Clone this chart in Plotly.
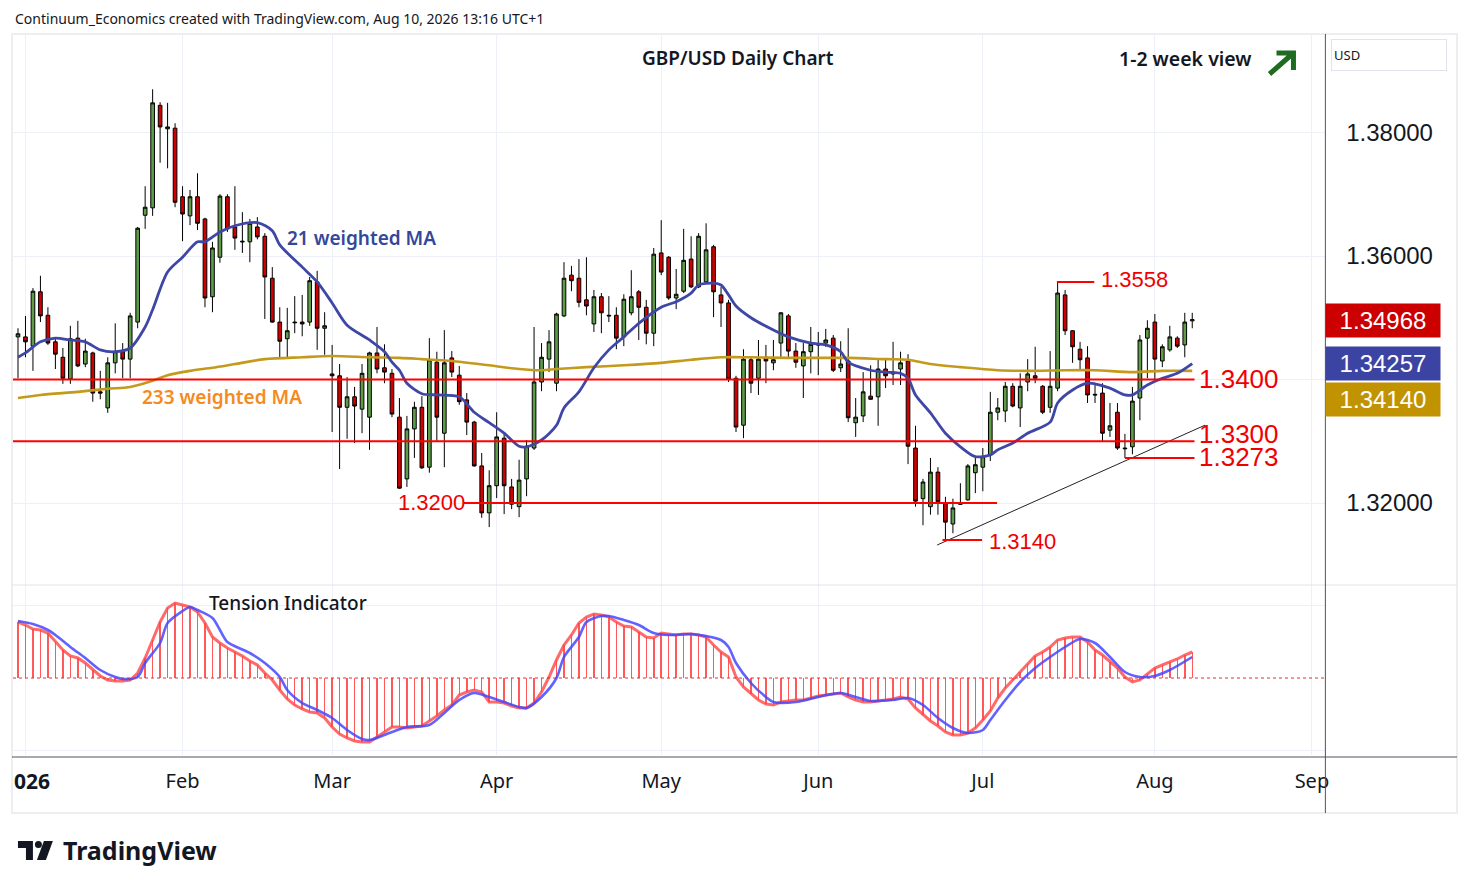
import pandas as pd
import plotly.graph_objects as go

# the page puts the figure 8px in from each edge of the window
OFF = 8
W, H = 1474 - 2 * OFF, 887 - 2 * OFF

def px(x):
    return (x - OFF) / W

def py(y):
    return 1 - (y - OFF) / H

# daily FX bars, weekends skipped
days = pd.bdate_range("2026-01-01", "2026-09-30")

opens = [1.3469, 1.3469, 1.3454, 1.3542, 1.3504, 1.3461, 1.3436, 1.3401, 1.3467, 1.3425,
         1.3443, 1.3380, 1.3354, 1.3427, 1.3445, 1.3433, 1.3493, 1.3666, 1.3678, 1.3844,
         1.3806, 1.3807, 1.3696, 1.3665, 1.3696, 1.3660, 1.3534, 1.3598, 1.3696, 1.3647,
         1.3624, 1.3623, 1.3647, 1.3632, 1.3564, 1.3493, 1.3466, 1.3493, 1.3493, 1.3493,
         1.3558, 1.3483, 1.3409, 1.3406, 1.3355, 1.3372, 1.3352, 1.3339, 1.3443, 1.3419,
         1.3410, 1.3339, 1.3239, 1.3320, 1.3355, 1.3258, 1.3428, 1.3313, 1.3435, 1.3407,
         1.3367, 1.3331, 1.3260, 1.3184, 1.3228, 1.3305, 1.3226, 1.3194, 1.3239, 1.3289,
         1.3396, 1.3433, 1.3394, 1.3503, 1.3569, 1.3564, 1.3529, 1.3490, 1.3534, 1.3504,
         1.3504, 1.3469, 1.3508, 1.3542, 1.3517, 1.3475, 1.3605, 1.3598, 1.3532, 1.3543,
         1.3595, 1.3550, 1.3558, 1.3615, 1.3537, 1.3524, 1.3402, 1.3326, 1.3432, 1.3402,
         1.3436, 1.3427, 1.3459, 1.3503, 1.3446, 1.3422, 1.3445, 1.3457, 1.3459, 1.3467,
         1.3419, 1.3430, 1.3330, 1.3341, 1.3373, 1.3372, 1.3417, 1.3409, 1.3417, 1.3430,
         1.3289, 1.3207, 1.3194, 1.3250, 1.3200, 1.3166, 1.3200, 1.3205, 1.3249, 1.3258,
         1.3278, 1.3347, 1.3349, 1.3389, 1.3354, 1.3396, 1.3406, 1.3389, 1.3355, 1.3386,
         1.3537, 1.3479, 1.3449, 1.3435, 1.3376, 1.3378, 1.3318, 1.3347, 1.3289, 1.3291,
         1.3370, 1.3467, 1.3493, 1.3430, 1.3448, 1.3467, 1.3456, 1.3495]
highs = [1.3483, 1.3503, 1.3548, 1.3568, 1.3517, 1.3466, 1.3451, 1.3487, 1.3495, 1.3466,
         1.3445, 1.3414, 1.3436, 1.3491, 1.3459, 1.3508, 1.3647, 1.3713, 1.3870, 1.3849,
         1.3848, 1.3815, 1.3713, 1.3707, 1.3734, 1.3662, 1.3623, 1.3700, 1.3700, 1.3713,
         1.3671, 1.3660, 1.3663, 1.3637, 1.3582, 1.3517, 1.3516, 1.3535, 1.3537, 1.3566,
         1.3576, 1.3509, 1.3456, 1.3425, 1.3404, 1.3388, 1.3425, 1.3445, 1.3485, 1.3457,
         1.3417, 1.3370, 1.3341, 1.3364, 1.3373, 1.3467, 1.3445, 1.3480, 1.3446, 1.3422,
         1.3378, 1.3333, 1.3281, 1.3253, 1.3347, 1.3313, 1.3239, 1.3270, 1.3302, 1.3485,
         1.3459, 1.3480, 1.3508, 1.3590, 1.3584, 1.3595, 1.3598, 1.3545, 1.3540, 1.3535,
         1.3517, 1.3538, 1.3577, 1.3545, 1.3529, 1.3613, 1.3658, 1.3600, 1.3579, 1.3644,
         1.3632, 1.3637, 1.3653, 1.3618, 1.3550, 1.3529, 1.3406, 1.3449, 1.3438, 1.3464,
         1.3456, 1.3464, 1.3509, 1.3506, 1.3459, 1.3459, 1.3485, 1.3477, 1.3482, 1.3472,
         1.3462, 1.3483, 1.3370, 1.3412, 1.3423, 1.3432, 1.3432, 1.3461, 1.3445, 1.3441,
         1.3325, 1.3239, 1.3273, 1.3258, 1.3210, 1.3207, 1.3232, 1.3263, 1.3275, 1.3289,
         1.3380, 1.3370, 1.3396, 1.3394, 1.3410, 1.3433, 1.3453, 1.3391, 1.3446, 1.3558,
         1.3545, 1.3480, 1.3461, 1.3454, 1.3394, 1.3394, 1.3362, 1.3362, 1.3312, 1.3388,
         1.3472, 1.3496, 1.3506, 1.3457, 1.3487, 1.3470, 1.3508, 1.3508]
lows = [1.3402, 1.3436, 1.3414, 1.3493, 1.3456, 1.3417, 1.3393, 1.3393, 1.3420, 1.3420,
        1.3364, 1.3368, 1.3346, 1.3410, 1.3402, 1.3402, 1.3483, 1.3644, 1.3665, 1.3751,
        1.3742, 1.3679, 1.3624, 1.3650, 1.3642, 1.3517, 1.3509, 1.3589, 1.3639, 1.3610,
        1.3605, 1.3590, 1.3627, 1.3498, 1.3492, 1.3436, 1.3436, 1.3475, 1.3470, 1.3487,
        1.3448, 1.3440, 1.3315, 1.3255, 1.3304, 1.3297, 1.3313, 1.3286, 1.3410, 1.3394,
        1.3339, 1.3223, 1.3226, 1.3273, 1.3255, 1.3249, 1.3299, 1.3258, 1.3404, 1.3359,
        1.3310, 1.3259, 1.3176, 1.3161, 1.3208, 1.3182, 1.3190, 1.3177, 1.3211, 1.3286,
        1.3381, 1.3412, 1.3381, 1.3501, 1.3543, 1.3517, 1.3504, 1.3477, 1.3475, 1.3493,
        1.3449, 1.3454, 1.3504, 1.3464, 1.3457, 1.3454, 1.3569, 1.3529, 1.3514, 1.3540,
        1.3548, 1.3548, 1.3555, 1.3501, 1.3485, 1.3396, 1.3315, 1.3305, 1.3378, 1.3375,
        1.3394, 1.3415, 1.3436, 1.3436, 1.3419, 1.3370, 1.3410, 1.3407, 1.3453, 1.3412,
        1.3412, 1.3331, 1.3307, 1.3331, 1.3367, 1.3325, 1.3386, 1.3391, 1.3391, 1.3263,
        1.3194, 1.3164, 1.3181, 1.3181, 1.3140, 1.3151, 1.3197, 1.3204, 1.3216, 1.3219,
        1.3268, 1.3334, 1.3331, 1.3355, 1.3323, 1.3381, 1.3394, 1.3344, 1.3346, 1.3381,
        1.3472, 1.3427, 1.3417, 1.3362, 1.3362, 1.3299, 1.3307, 1.3286, 1.3273, 1.3279,
        1.3334, 1.3402, 1.3399, 1.3420, 1.3445, 1.3451, 1.3436, 1.3483]
closes = [1.3474, 1.3461, 1.3543, 1.3503, 1.3459, 1.3441, 1.3402, 1.3466, 1.3422, 1.3446,
          1.3378, 1.3378, 1.3427, 1.3445, 1.3433, 1.3503, 1.3645, 1.3679, 1.3848, 1.3809,
          1.3809, 1.3687, 1.3668, 1.3696, 1.3653, 1.3532, 1.3613, 1.3697, 1.3644, 1.3629,
          1.3623, 1.3653, 1.3631, 1.3566, 1.3493, 1.3462, 1.3479, 1.3492, 1.3490, 1.3560,
          1.3483, 1.3487, 1.3406, 1.3355, 1.3372, 1.3357, 1.3410, 1.3443, 1.3417, 1.3412,
          1.3344, 1.3224, 1.3320, 1.3355, 1.3257, 1.3432, 1.3339, 1.3427, 1.3412, 1.3364,
          1.3331, 1.3260, 1.3184, 1.3228, 1.3307, 1.3228, 1.3198, 1.3237, 1.3292, 1.3396,
          1.3436, 1.3461, 1.3506, 1.3564, 1.3560, 1.3525, 1.3519, 1.3534, 1.3508, 1.3503,
          1.3467, 1.3530, 1.3534, 1.3517, 1.3475, 1.3603, 1.3574, 1.3532, 1.3538, 1.3593,
          1.3550, 1.3632, 1.3610, 1.3542, 1.3524, 1.3401, 1.3323, 1.3433, 1.3394, 1.3433,
          1.3430, 1.3432, 1.3508, 1.3446, 1.3428, 1.3445, 1.3457, 1.3456, 1.3464, 1.3415,
          1.3425, 1.3338, 1.3339, 1.3380, 1.3368, 1.3417, 1.3406, 1.3412, 1.3427, 1.3292,
          1.3203, 1.3234, 1.3250, 1.3202, 1.3169, 1.3192, 1.3198, 1.3260, 1.3262, 1.3275,
          1.3347, 1.3354, 1.3389, 1.3357, 1.3389, 1.3409, 1.3402, 1.3347, 1.3389, 1.3540,
          1.3479, 1.3453, 1.3432, 1.3375, 1.3375, 1.3313, 1.3325, 1.3289, 1.3288, 1.3365,
          1.3464, 1.3483, 1.3433, 1.3453, 1.3469, 1.3454, 1.3493, 1.34968]

# moving averages (bar number, value)
wma21_bars = [0, 1, 3, 5, 7, 9, 11, 13, 15, 17, 18, 20, 22, 24, 25, 27, 29, 32, 34, 35,
              38, 40, 42, 44, 47, 49, 50, 51, 52, 54, 56, 59, 61, 63, 65, 67, 68, 70, 72, 73,
              75, 77, 79, 81, 83, 86, 88, 90, 91, 93, 94, 95, 96, 98, 101, 103, 106, 108, 110, 111,
              114, 116, 118, 119, 120, 122, 124, 126, 128, 130, 131, 133, 135, 138, 139, 141, 143, 144, 146, 148,
              149, 151, 153, 155, 157]
wma21 = [1.3436, 1.3443, 1.3461, 1.3467, 1.3464, 1.3461, 1.3448, 1.3445, 1.3451, 1.3485,
         1.3513, 1.3574, 1.3598, 1.3623, 1.3623, 1.3639, 1.3649, 1.3654, 1.3641, 1.3618,
         1.3582, 1.3558, 1.3524, 1.3488, 1.3464, 1.3445, 1.3428, 1.3415, 1.3394, 1.3377,
         1.3375, 1.3372, 1.3347, 1.3330, 1.3313, 1.3292, 1.3291, 1.3302, 1.3326, 1.3354,
         1.3380, 1.3419, 1.3448, 1.3469, 1.3491, 1.3517, 1.3526, 1.3540, 1.3553, 1.3556,
         1.3553, 1.3537, 1.3519, 1.3500, 1.3480, 1.3469, 1.3459, 1.3456, 1.3445, 1.3428,
         1.3415, 1.3412, 1.3410, 1.3402, 1.3375, 1.3346, 1.3313, 1.3291, 1.3275, 1.3278,
         1.3286, 1.3297, 1.3313, 1.3331, 1.3362, 1.3383, 1.3394, 1.3393, 1.3386, 1.3375,
         1.3375, 1.3391, 1.3402, 1.3410, 1.34257]
wma233_bars = [0, 3, 8, 12, 15, 18, 20, 23, 26, 29, 33, 38, 42, 47, 51, 54, 58, 63, 67, 70,
               72, 76, 81, 86, 90, 94, 98, 103, 107, 111, 116, 119, 122, 126, 131, 135, 140, 144, 149, 153,
               157]
wma233 = [1.3370, 1.3375, 1.3380, 1.3385, 1.3388, 1.3398, 1.3407, 1.3414, 1.3419, 1.3425,
          1.3433, 1.3436, 1.3438, 1.3436, 1.3435, 1.3433, 1.3430, 1.3423, 1.3417, 1.3415,
          1.3417, 1.3420, 1.3423, 1.3427, 1.3432, 1.3436, 1.3436, 1.3435, 1.3435, 1.3435,
          1.3433, 1.3432, 1.3425, 1.3420, 1.3415, 1.3414, 1.3415, 1.3415, 1.3412, 1.3414,
          1.3414]

# tension indicator (arbitrary units, 0 = dotted baseline)
tension = [56, 53, 49, 48, 45, 36, 28, 22, 20, 15,
           8, 2, -2, -3, -3, -2, 5, 20, 38, 56,
           70, 75, 73, 71, 66, 55, 41, 35, 30, 26,
           22, 17, 13, 5, -2, -12, -21, -27, -31, -34,
           -35, -40, -49, -56, -60, -63, -64, -64, -59, -54,
           -49, -49, -50, -49, -48, -43, -38, -32, -27, -17,
           -14, -12, -14, -24, -24, -25, -28, -30, -30, -25,
           -14, 1, 18, 33, 43, 55, 61, 64, 63, 61,
           56, 52, 51, 46, 41, 40, 45, 44, 43, 44,
           44, 43, 41, 33, 26, 21, 1, -9, -16, -22,
           -26, -27, -24, -23, -22, -22, -20, -18, -17, -16,
           -15, -19, -22, -24, -24, -23, -22, -21, -19, -21,
           -30, -37, -43, -48, -54, -57, -57, -55, -50, -42,
           -33, -20, -10, -2, 6, 14, 22, 26, 31, 38,
           40, 41, 41, 36, 28, 23, 16, 10, 1, -4,
           -2, 4, 10, 13, 16, 19, 23, 26]
signal_bars = [0, 2, 4, 5, 7, 9, 11, 13, 14, 16, 17, 19, 20, 22, 23, 24, 26, 27, 28, 31,
               33, 35, 36, 38, 40, 42, 44, 46, 47, 50, 52, 55, 57, 59, 61, 63, 65, 67, 68, 70,
               72, 73, 75, 76, 78, 79, 81, 83, 85, 87, 90, 92, 94, 95, 96, 98, 100, 101, 104, 107,
               110, 112, 114, 117, 119, 121, 123, 125, 127, 129, 130, 132, 134, 136, 138, 140, 142, 144, 146, 148,
               150, 152, 154, 157]
signal = [57, 54, 48, 43, 31, 20, 8, 1, -1, 1, 15, 35, 55, 67, 71, 68, 60, 48, 36, 25,
          15, 1, -12, -25, -32, -40, -52, -61, -62, -54, -49, -47, -35, -22, -15, -19, -24, -29, -30, -19,
          0, 21, 41, 56, 62, 62, 58, 53, 45, 43, 44, 42, 38, 31, 15, -5, -19, -24, -24, -19,
          -15, -19, -23, -22, -20, -27, -40, -50, -55, -52, -42, -22, -4, 10, 21, 31, 39, 35, 21, 6,
          1, 2, 8, 21]

# support / resistance levels and the rising trendline
levels = [1.3400, 1.3300, 1.3273, 1.3200, 1.3558, 1.3140]
level_span = [(-0.7, 157.3), (-0.7, 157.3), (148, 157.3), (59.6, 130.9), (138.9, 143.9), (123.6, 128.9)]
level_label_pos = [(1200, 379, 26), (1200, 434, 26), (1200, 457, 26), (397, 502, 22), (1102, 280, 22), (990, 541, 22)]
trend_bars = [122.9, 158.7]
trend_prices = [1.3132, 1.3326]

n = len(closes)
bars = list(range(n))
month_starts = ["2026-01-02", "2026-02-02", "2026-03-02", "2026-04-01", "2026-05-01",
                "2026-06-01", "2026-07-01", "2026-08-03", "2026-09-01"]
month_names = ["", "Feb", "Mar", "Apr", "May", "Jun", "Jul", "Aug", "Sep"]
day_pos = {d.strftime("%Y-%m-%d"): i for i, d in enumerate(days)}
month_bars = [day_pos[m] for m in month_starts]

GREEN = "#5e9c48"
RED = "#d00000"
TXT = "#131722"
GRID = "#edf0f6"
NUMF = "Liberation Sans"
TXTF = "Noto Sans"

fig = go.Figure()

fig.add_trace(go.Scatter(x=wma233_bars, y=wma233, mode="lines", xaxis="x", yaxis="y",
                         line=dict(color="#c49a1c", width=2.6, shape="spline", smoothing=0.8),
                         hoverinfo="skip", showlegend=False))
fig.add_trace(go.Scatter(x=wma21_bars, y=wma21, mode="lines", xaxis="x", yaxis="y",
                         line=dict(color="#3f47a6", width=2.8, shape="spline", smoothing=0.8),
                         hoverinfo="skip", showlegend=False))
fig.add_trace(go.Scatter(x=trend_bars, y=trend_prices, mode="lines", xaxis="x", yaxis="y",
                         line=dict(color="#222222", width=1), hoverinfo="skip", showlegend=False))
fig.add_trace(go.Candlestick(
    x=bars, open=opens, high=highs, low=lows, close=closes, xaxis="x", yaxis="y",
    increasing=dict(fillcolor=GREEN, line=dict(color="black", width=1)),
    decreasing=dict(fillcolor=RED, line=dict(color="black", width=1)),
    whiskerwidth=0, hoverinfo="skip", showlegend=False))

# indicator pane
fig.add_trace(go.Bar(x=bars, y=tension, width=0.2, xaxis="x", yaxis="y2",
                     marker=dict(color="rgba(255,60,60,0.85)", line=dict(width=0)),
                     hoverinfo="skip", showlegend=False))
fig.add_trace(go.Scatter(x=bars, y=tension, mode="lines", xaxis="x", yaxis="y2",
                         line=dict(color="rgba(255,70,70,0.8)", width=3),
                         hoverinfo="skip", showlegend=False))
fig.add_trace(go.Scatter(x=signal_bars, y=signal, mode="lines", xaxis="x", yaxis="y2",
                         line=dict(color="rgba(70,70,255,0.85)", width=2.6, shape="spline", smoothing=0.8),
                         hoverinfo="skip", showlegend=False))

shapes = []
for lvl, (b0, b1) in zip(levels, level_span):
    shapes.append(dict(type="line", xref="x", yref="y", x0=b0, x1=b1, y0=lvl, y1=lvl,
                       line=dict(color="#ff0000", width=2), layer="above"))
shapes += [
    dict(type="line", xref="x domain", yref="y2", x0=0, x1=1, y0=0, y1=0,
         line=dict(color="#e03030", width=1, dash="dot")),
    dict(type="rect", xref="paper", yref="paper", x0=px(12), x1=px(1461), y0=py(813), y1=py(34),
         line=dict(color="#eceef2", width=2)),
    dict(type="line", xref="paper", yref="paper", x0=px(12), x1=px(1461), y0=py(585), y1=py(585),
         line=dict(color="#e0e3eb", width=1)),
    dict(type="line", xref="paper", yref="paper", x0=px(12), x1=px(1461), y0=py(757), y1=py(757),
         line=dict(color="#50535e", width=1)),
    dict(type="line", xref="paper", yref="paper", x0=px(1329), x1=px(1329), y0=py(813), y1=py(34),
         line=dict(color="#50535e", width=1)),
    # trend arrow next to the view text
    dict(type="path", xref="paper", yref="paper",
         path=f"M {px(1273)} {py(74)} L {px(1297)} {py(53)} M {px(1280)} {py(53)} L {px(1297)} {py(53)} L {px(1297)} {py(70)}",
         line=dict(color="#1e6b22", width=5)),
    # TradingView mark
    dict(type="path", xref="paper", yref="paper", fillcolor=TXT, line=dict(width=0),
         path=f"M {px(18)} {py(841)} L {px(33)} {py(841)} L {px(33)} {py(860)} L {px(26)} {py(860)} "
              f"L {px(26)} {py(848)} L {px(18)} {py(848)} Z"),
    dict(type="circle", xref="paper", yref="paper", fillcolor=TXT, line=dict(width=0),
         x0=px(35), x1=px(42), y0=py(848), y1=py(841)),
    dict(type="path", xref="paper", yref="paper", fillcolor=TXT, line=dict(width=0),
         path=f"M {px(44)} {py(841)} L {px(53)} {py(841)} L {px(46)} {py(860)} L {px(37)} {py(860)} Z"),
]

ann = []
def text(t, x, y, size, color=TXT, anchor="left", family=TXTF, weight=None):
    f = dict(size=size, color=color, family=family)
    if weight:
        f["weight"] = weight
    ann.append(dict(text=t, xref="paper", yref="paper", x=px(x), y=py(y), xanchor=anchor,
                    yanchor="middle", showarrow=False, font=f))

text("Continuum_Economics created with TradingView.com, Aug 10, 2026 13:16 UTC+1", 13, 19, 14)
text("GBP/USD Daily Chart", 740, 58, 19, anchor="center", weight=600)
text("1-2 week view", 1120, 59, 19.5, weight=600)
text("21 weighted MA", 286, 238, 19, color="#34479a", weight=600)
text("233 weighted MA", 140, 397, 19, color="#f58a1f", weight=600)
text("Tension Indicator", 208, 603, 19, weight=500)
text("<b>026</b>", 12, 781, 21)
text("TradingView", 61, 850, 25, weight=700)
for lvl, (lx, ly, ls) in zip(levels, level_label_pos):
    text(f"{lvl:.4f}", lx, ly, ls, color="#f00000", family=NUMF)

for val, yc, bg in [(closes[-1], 320.5, "#cc0000"), (wma21[-1], 363.5, "#3c44a3"), (wma233[-1], 399.5, "#c29300")]:
    ann.append(dict(text=f"{val:.5f}", xref="paper", yref="paper", x=px(1329), y=py(yc),
                    xanchor="left", yanchor="middle", showarrow=False, width=114, height=33,
                    bgcolor=bg, borderpad=0, align="center",
                    font=dict(size=24, color="white", family=NUMF)))
ann.append(dict(text="USD", xref="paper", yref="paper", x=px(1335), y=py(55), xanchor="left",
                yanchor="middle", showarrow=False, width=110, height=26, align="left",
                bgcolor="white", bordercolor="#e0e3eb", borderwidth=1, borderpad=2,
                font=dict(size=13, color=TXT, family=TXTF)))

fig.update_layout(
    width=W, height=H, margin=dict(l=0, r=0, t=0, b=0),
    paper_bgcolor="white", plot_bgcolor="white",
    showlegend=False, bargap=0,
    xaxis=dict(domain=[px(13), px(1329)], range=[-0.67, 174.8], anchor="y2",
               tickvals=month_bars, ticktext=month_names, ticks="outside", ticklen=8,
               tickcolor="rgba(0,0,0,0)", tickfont=dict(size=20, color=TXT, family=TXTF),
               showgrid=True, gridcolor=GRID, zeroline=False, showline=False,
               rangeslider=dict(visible=False)),
    yaxis=dict(domain=[py(585), py(35)], range=[1.30672, 1.39579], anchor="x", side="right",
               tickvals=[1.32, 1.34, 1.36, 1.38], ticktext=["1.32000", "", "1.36000", "1.38000"],
               ticks="outside", ticklen=15, tickcolor="rgba(0,0,0,0)",
               tickfont=dict(size=24, color=TXT, family=NUMF),
               showgrid=True, gridcolor=GRID, zeroline=False, showline=False),
    yaxis2=dict(domain=[py(755), py(585)], range=[-77, 93], anchor="x", side="right",
                tickvals=[-72, 73], showticklabels=False, showgrid=True, gridcolor=GRID,
                zeroline=False, showline=False),
    shapes=shapes, annotations=ann,
)

fig.write_html("out.html")
